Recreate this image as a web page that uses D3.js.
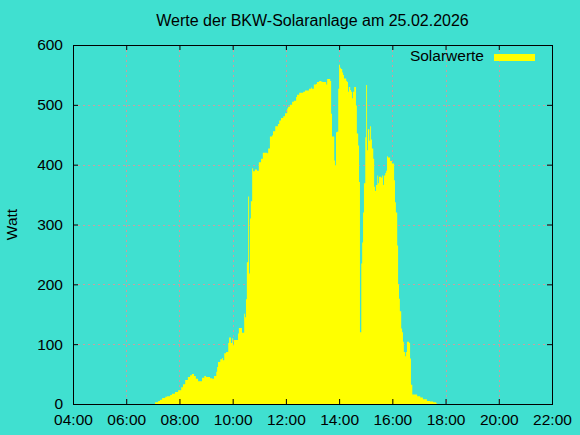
<!DOCTYPE html>
<html>
<head>
<meta charset="utf-8">
<script src="https://cdn.jsdelivr.net/npm/d3@7"></script>
<style>
  body { margin: 0; background: #40e0d0; }
  svg { display: block; font-family: "Liberation Sans", Arial, sans-serif; }
  .grid line { stroke: #c8a0a0; stroke-width: 1; stroke-dasharray: 2,3; }
</style>
</head>
<body>
<svg id="chart" width="580" height="435"></svg>
<script>
// Solar readings for one day.
const TITLE = "Werte der BKW-Solaranlage am 25.02.2026";
const Y_LABEL = "Watt";
const SERIES_NAME = "Solarwerte";

const times = [
  "07:05", "07:12", "07:16", "07:21", "07:28", "07:32", "07:39", "07:43", "07:50", "07:57",
  "08:04", "08:08", "08:13", "08:19", "08:24", "08:28", "08:33", "08:37", "08:42", "08:46",
  "08:51", "08:56", "09:00", "09:05", "09:09", "09:14", "09:18", "09:23", "09:25", "09:27",
  "09:32", "09:36", "09:38", "09:41", "09:45", "09:50", "09:52", "09:56", "09:59", "10:01",
  "10:03", "10:08", "10:12", "10:14", "10:19", "10:21", "10:26", "10:28", "10:30", "10:32",
  "10:35", "10:37", "10:39", "10:41", "10:44", "10:46", "10:50", "10:55", "10:59", "11:04",
  "11:08", "11:15", "11:18", "11:20", "11:24", "11:29", "11:31", "11:36", "11:42", "11:45",
  "11:49", "11:54", "11:58", "12:03", "12:05", "12:09", "12:14", "12:18", "12:23", "12:25",
  "12:30", "12:39", "12:43", "12:48", "12:52", "12:57", "12:59", "13:03", "13:08", "13:10",
  "13:15", "13:19", "13:22", "13:26", "13:31", "13:33", "13:37", "13:40", "13:42", "13:44",
  "13:49", "13:51", "13:53", "13:55", "13:58", "14:00", "14:02", "14:04", "14:07", "14:09",
  "14:11", "14:16", "14:18", "14:20", "14:22", "14:25", "14:27", "14:29", "14:31", "14:34",
  "14:38", "14:40", "14:43", "14:45", "14:47", "14:50", "14:52", "14:54", "14:56", "14:59",
  "15:01", "15:03", "15:05", "15:08", "15:10", "15:12", "15:14", "15:17", "15:19", "15:21",
  "15:23", "15:26", "15:28", "15:30", "15:35", "15:37", "15:39", "15:41", "15:44", "15:46",
  "15:48", "15:50", "15:55", "15:59", "16:04", "16:06", "16:08", "16:11", "16:13", "16:15",
  "16:17", "16:20", "16:22", "16:24", "16:26", "16:29", "16:31", "16:33", "16:38", "16:40",
  "16:42", "16:45", "16:51", "16:56", "17:03", "17:09", "17:18", "17:25", "17:32", "17:39",
  "17:41"
];
const watts = [
  3, 5, 7, 10, 12, 13, 15, 17, 20, 23,
  28, 33, 40, 45, 48, 50, 47, 42, 38, 38,
  44, 47, 45, 45, 43, 42, 47, 54, 62, 70,
  75, 77, 73, 85, 87, 102, 111, 102, 110, 98,
  107, 107, 118, 127, 127, 119, 151, 145, 175, 237,
  347, 218, 310, 339, 394, 389, 392, 390, 404, 410,
  420, 420, 419, 427, 447, 449, 456, 464, 468, 474,
  478, 481, 486, 494, 497, 500, 505, 507, 513, 517,
  520, 522, 524, 524, 527, 529, 527, 534, 535, 538,
  540, 539, 538, 538, 534, 543, 543, 540, 485, 447,
  407, 399, 454, 455, 527, 567, 562, 560, 554, 550,
  544, 540, 538, 522, 530, 525, 522, 511, 522, 530,
  499, 452, 432, 371, 120, 235, 270, 320, 369, 446,
  533, 424, 459, 440, 464, 442, 427, 410, 363, 356,
  366, 382, 369, 380, 378, 382, 366, 382, 386, 390,
  414, 412, 406, 402, 374, 337, 320, 265, 200, 176,
  155, 126, 120, 104, 87, 80, 87, 104, 102, 76,
  32, 16, 16, 13, 11, 8, 5, 4, 3, 1,
  0
];

const xTickLabels = ["04:00", "06:00", "08:00", "10:00", "12:00", "14:00", "16:00", "18:00", "20:00", "22:00"];
const yTicks = [0, 100, 200, 300, 400, 500, 600];

const BG = "#40e0d0";
const FILL = "#ffff00";
const FONT_SIZE = 15.5;
const TITLE_SIZE = 16;
const TICK = 5;

const svg = d3.select("#chart");
const width = 580;
const height = 435;
const margin = { top: 45, right: 28, bottom: 31, left: 73 };

const parse = d3.timeParse("%H:%M");
const data = times.map((t, i) => ({ t: parse(t), w: watts[i] }));

const x = d3.scaleTime()
  .domain([parse(xTickLabels[0]), parse(xTickLabels[xTickLabels.length - 1])])
  .range([margin.left, width - margin.right]);
const y = d3.scaleLinear()
  .domain([0, 600])
  .range([height - margin.bottom, margin.top]);

const xTicks = xTickLabels.map(parse);

svg.append("rect").attr("width", width).attr("height", height).attr("fill", BG);

// Dotted grid, drawn first so the filled area covers it.
const grid = svg.append("g").attr("class", "grid");
grid.selectAll("line.v")
  .data(xTicks.slice(1, -1))
  .join("line")
  .attr("class", "v")
  .attr("x1", (d) => Math.round(x(d)) + 0.5)
  .attr("x2", (d) => Math.round(x(d)) + 0.5)
  .attr("y1", y(600))
  .attr("y2", y(0));
grid.selectAll("line.h")
  .data(yTicks.slice(1, -1))
  .join("line")
  .attr("class", "h")
  .attr("x1", x.range()[0])
  .attr("x2", x.range()[1])
  .attr("y1", (d) => Math.round(y(d)) + 0.5)
  .attr("y2", (d) => Math.round(y(d)) + 0.5);

// Filled solar curve, stepped like the sampled readings.
const area = d3.area()
  .x((d) => x(d.t))
  .y0(y(0))
  .y1((d) => y(d.w))
  .curve(d3.curveStepAfter);

svg.append("path")
  .datum(data)
  .attr("fill", FILL)
  .attr("d", area);

// Axes with inward ticks on all four sides (mirrored).
const fmt = d3.timeFormat("%H:%M");
const axisB = svg.append("g")
  .attr("transform", `translate(0,${y(0)})`)
  .call(d3.axisBottom(x).tickValues(xTicks).tickFormat(fmt).tickSizeInner(-TICK).tickSizeOuter(0).tickPadding(10));
const axisT = svg.append("g")
  .attr("transform", `translate(0,${y(600)})`)
  .call(d3.axisTop(x).tickValues(xTicks).tickFormat("").tickSizeInner(-TICK).tickSizeOuter(0));
const axisL = svg.append("g")
  .attr("transform", `translate(${x.range()[0]},0)`)
  .call(d3.axisLeft(y).tickValues(yTicks).tickSizeInner(-TICK).tickSizeOuter(0).tickPadding(10));
const axisR = svg.append("g")
  .attr("transform", `translate(${x.range()[1]},0)`)
  .call(d3.axisRight(y).tickValues(yTicks).tickFormat("").tickSizeInner(-TICK).tickSizeOuter(0));

for (const g of [axisB, axisT, axisL, axisR]) {
  g.select(".domain").remove();
  g.selectAll("line").attr("stroke", "#000");
  g.selectAll("text").attr("fill", "#000").attr("font-size", FONT_SIZE).attr("font-family", null);
}
axisB.selectAll("text").attr("dy", "0.71em");

// Plot frame.
svg.append("rect")
  .attr("x", x.range()[0] + 0.5)
  .attr("y", y(600) + 0.5)
  .attr("width", x.range()[1] - x.range()[0])
  .attr("height", y(0) - y(600))
  .attr("fill", "none")
  .attr("stroke", "#000");

// Title and axis label.
svg.append("text")
  .attr("x", (x.range()[0] + x.range()[1]) / 2)
  .attr("y", 26)
  .attr("text-anchor", "middle")
  .attr("font-size", TITLE_SIZE)
  .text(TITLE);

svg.append("text")
  .attr("transform", `translate(17,${(y(0) + y(600)) / 2}) rotate(-90)`)
  .attr("text-anchor", "middle")
  .attr("font-size", FONT_SIZE)
  .text(Y_LABEL);

// Legend in the top right corner.
svg.append("text")
  .attr("x", 484)
  .attr("y", 61)
  .attr("text-anchor", "end")
  .attr("font-size", FONT_SIZE)
  .text(SERIES_NAME);
svg.append("rect")
  .attr("x", 494)
  .attr("y", 54)
  .attr("width", 41)
  .attr("height", 7)
  .attr("fill", FILL);
</script>
</body>
</html>
